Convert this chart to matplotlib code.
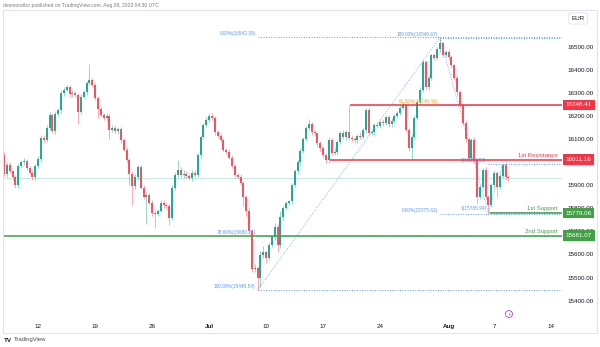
import matplotlib
matplotlib.use('Agg')
import matplotlib.pyplot as plt
import numpy as np

plt.rcParams['font.family'] = ['Liberation Sans', 'DejaVu Sans']

# 4h candles, Jun 7 -> Aug 8 2023 (20 bars per trading week)
first_open = 16030
closes = [
    # Jun 7-9
    15950, 15990, 15960, 15935, 15900, 15985, 16000, 16005, 15975, 15955, 15935, 15985,
    # Jun 12-16
    16015, 16105, 16095, 16150, 16205, 16135, 16210, 16225, 16300, 16315,
    16325, 16295, 16300, 16290, 16220, 16285, 16305, 16345, 16355, 16335,
    # Jun 19-23
    16280, 16230, 16205, 16190, 16200, 16140, 16150, 16135, 16145, 16095,
    16055, 16010, 15950, 15895, 15935, 15980, 15890, 15850, 15860, 15825,
    # Jun 26-30
    15780, 15775, 15790, 15825, 15815, 15810, 15758, 15890, 15945, 15966,
    15945, 15950, 15940, 15932, 15955, 15945, 16030, 16110, 16160, 16185,
    # Jul 3-7
    16200, 16190, 16130, 16115, 16095, 16055, 16045, 16020, 15985, 15945,
    15935, 15910, 15850, 15790, 15700, 15535, 15540, 15500, 15598, 15610,
    # Jul 10-14
    15585, 15640, 15676, 15720, 15640, 15762, 15800, 15823, 15830, 15900,
    15960, 16000, 16050, 16100, 16150, 16165, 16130, 16125, 16083, 16060,
    # Jul 17-21
    16030, 16010, 16097, 16040, 16045, 16088, 16127, 16110, 16130, 16105,
    16100, 16095, 16115, 16110, 16140, 16227, 16127, 16130, 16162, 16158,
    # Jul 24-28
    16175, 16170, 16195, 16165, 16180, 16200, 16215, 16237, 16250, 16140,
    16062, 16110, 16193, 16260, 16313, 16435, 16327, 16365, 16465, 16452,
    # Jul 31 - Aug 4
    16490, 16517, 16465, 16478, 16457, 16420, 16365, 16305, 16248, 16170,
    16100, 16018, 16097, 16010, 15850, 15893, 15966, 15850, 15815, 15900,
    # Aug 7-8
    15953, 15893, 15940, 15990, 15936, 15930,
]
upper_wick = [
    15, 10, 12, 8, 10, 12, 10, 14, 8, 10, 12, 8,
    10, 12, 15, 10, 12, 8, 12, 10, 15, 10, 8, 10, 12, 8, 10, 12, 10, 8, 70, 10,
    10, 8, 12, 10, 15, 8, 10, 12, 10, 8, 10, 12, 8, 10, 15, 10, 8, 12, 10, 8,
    10, 12, 8, 10, 12, 10, 8, 10, 12, 45, 12, 15, 10, 8, 12, 10, 8, 10, 12, 10,
    12, 15, 10, 8, 12, 10, 8, 12, 10, 8, 10, 12, 8, 10, 15, 10, 20, 12, 15, 25,
    10, 12, 8, 15, 10, 25, 12, 10, 8, 12, 10, 8, 12, 10, 8, 22, 10, 12, 8, 10,
    10, 8, 12, 10, 15, 8, 10, 12, 10, 120, 12, 10, 8, 15, 10, 10, 12, 8, 10, 12,
    10, 12, 8, 10, 12, 10, 8, 12, 10, 8, 10, 12, 10, 8, 12, 10, 10, 12, 8, 10,
    12, 23, 10, 8, 12, 10, 8, 12, 10, 8, 12, 10, 8, 12, 10, 8, 10, 12, 8, 10,
    12, 10, 8, 5, 10, 8,
]
lower_wick = [
    10, 12, 8, 10, 12, 10, 8, 12, 10, 8, 12, 10,
    8, 12, 10, 8, 12, 10, 12, 8, 10, 12, 8, 10, 12, 8, 55, 10, 8, 12, 10, 8,
    12, 40, 10, 8, 12, 40, 10, 8, 12, 10, 8, 10, 50, 80, 10, 12, 8, 10, 120, 10,
    12, 60, 10, 8, 12, 10, 30, 10, 12, 8, 10, 12, 8, 10, 12, 10, 8, 12, 10, 8,
    10, 8, 12, 10, 8, 12, 10, 8, 10, 12, 8, 10, 40, 25, 12, 10, 12, 55, 40, 12,
    20, 10, 8, 12, 30, 10, 12, 8, 10, 12, 8, 10, 12, 10, 8, 10, 12, 10, 15, 10,
    10, 15, 12, 10, 8, 12, 10, 8, 12, 10, 8, 10, 12, 8, 10, 12, 10, 8, 12, 10,
    10, 12, 8, 10, 12, 8, 10, 12, 8, 10, 12, 50, 10, 8, 12, 10, 8, 12, 10, 8,
    10, 12, 8, 10, 12, 10, 8, 12, 10, 8, 12, 16, 10, 12, 25, 10, 8, 12, 29, 10,
    10, 45, 10, 8, 12, 10,
]

date_ticks = [12, 32, 52, 72, 92, 112, 132, 156, 172, 192]
date_labels = ['12', '19', '26', 'Jul', '10', '17', '24', 'Aug', '7', '14']
price_ticks = list(range(15400, 16501, 100))
hidden_ticks = [16000]  # sits under the 16011.16 tag

# key levels: (price, first bar, colour, label)
levels = [
    (16248.41, 121.4, '#f23645', ''),
    (16011.16, 114.4, '#f23645', '1st Resistance'),
    (15779.06, 170.5, '#43a047', '1st Support'),
    (15681.07, -1, '#43a047', '2nd Support'),
]

# fib drawings: (start bar, [(price, label, colour)])
fibs = [
    (89, [(16542.39, '0.00%(16542.39)', '#5b9cf6'),
          (15680.25, '78.60%(15680.25)', '#5b9cf6'),
          (15445.54, '100.00%(15445.54)', '#5b9cf6')]),
    (153, [(16540.67, '100.00%(16540.67)', '#5b9cf6'),
           (16248.43, '61.80%(16248.43)', '#f5a623'),
           (15775.62, '0.00%(15775.62)', '#5b9cf6')]),
    (170, [(15990.53, '0(15990.53)', '#5b9cf6'),
           (15785.94, '1(15785.94)', '#5b9cf6')]),
]
trend_lines = [
    ((89, 15445.54), (153, 16542.39)),
    ((153, 16540.67), (170, 15775.62)),
    ((170, 15785.94), (175, 15990.53)),
]

W, H = 600, 347
fig = plt.figure(figsize=(6, 3.47), dpi=100)
ax = fig.add_axes([3 / W, 1 - 318 / H, 559 / W, 308 / H])

closes = np.array(closes, dtype=float)
opens = np.concatenate([[first_open], closes[:-1]])
highs = np.maximum(opens, closes) + np.array(upper_wick)
lows = np.minimum(opens, closes) - np.array(lower_wick)
x = np.arange(len(closes))
up = closes >= opens
col = np.where(up, '#22ab94', '#f7525f')

ax.vlines(x, lows, highs, colors=col, lw=0.6, alpha=0.55, zorder=2)
ax.bar(x, np.maximum(np.abs(closes - opens), 2), bottom=np.minimum(opens, closes),
       width=0.7, color=col, zorder=3, linewidth=0)

xmax = 195.8
ax.set_xlim(-0.35, xmax)
ax.set_ylim(15324.3, 16660.5)

# last price line
ax.axhline(closes[-1], color='#22ab94', alpha=0.3, lw=0.6, zorder=1)

dot = (0, (1, 1.6))
for start, lv in fibs:
    for price, lab, c in lv:
        ax.hlines(price, start, xmax, colors=c, lw=0.7, linestyles=dot, zorder=1)
        ax.annotate(lab, xy=(start, price), xytext=(-1.5, 2.5), textcoords='offset points',
                    ha='right', va='center', fontsize=3.4, color=c)
for (x0, y0), (x1, y1) in trend_lines:
    ax.plot([x0, x1], [y0, y1], color='#5b9cf6', lw=0.7, ls=dot, alpha=0.8, zorder=1)

for price, start, c, lab in levels:
    ax.hlines(price, max(start, -0.35), xmax, colors=c, lw=1.3, alpha=0.85, zorder=4)
    if lab:
        ax.annotate(lab, xy=(1, price), xycoords=('axes fraction', 'data'),
                    xytext=(-3, 1.5), textcoords='offset points', ha='right', va='bottom',
                    fontsize=4.3, color=c)
    ax.annotate(f'{price:.2f}', xy=(1, price), xycoords=('axes fraction', 'data'),
                xytext=(2.5, 0), textcoords='offset points', ha='left', va='center',
                fontsize=4.5, color='white', zorder=10, annotation_clip=False,
                bbox=dict(boxstyle='square,pad=0.45', fc=c, ec='none'))

ax.yaxis.tick_right()
ax.set_yticks(price_ticks)
ax.set_yticklabels(['' if p in hidden_ticks else f'{p:.2f}' for p in price_ticks])
ax.set_xticks(date_ticks)
ax.set_xticklabels(date_labels)
for t in ax.get_xticklabels():
    if t.get_text() in ('Jul', 'Aug'):
        t.set_fontweight('bold')
ax.tick_params(axis='both', length=0, labelsize=4.5, colors='#131722')
ax.tick_params(axis='y', pad=4)
ax.tick_params(axis='x', pad=4.5)
for s in ax.spines.values():
    s.set_visible(False)

# frame and extras
fig.add_artist(plt.Rectangle((3 / W, 1 - 333 / H), 594 / W, 323 / H, transform=fig.transFigure,
                             fill=False, ec='#e0e3eb', lw=0.8))
fig.text(3 / W, 1 - 5 / H, 'desmondlzv published on TradingView.com, Aug 08, 2023 04:30 UTC',
         fontsize=3.6, color='#787b86', va='center')
fig.text(578 / W, 1 - 18.5 / H, 'EUR', fontsize=4.5, color='#131722', ha='center', va='center',
         bbox=dict(boxstyle='round,pad=0.5', fc='white', ec='#e0e3eb', lw=0.6))
fig.text(509 / W, 1 - 314 / H, '\u26a1', fontsize=3.5, color='#ab47bc', ha='center', va='center',
         bbox=dict(boxstyle='circle,pad=0.2', fc='white', ec='#ab47bc', lw=0.6))
fig.text(4 / W, 1 - 340 / H, 'TV', fontsize=4.5, fontweight='bold', color='#131722', va='center')
fig.text(14 / W, 1 - 340 / H, 'TradingView', fontsize=4.2, color='#4a4a4a', va='center')

fig.savefig('out.png', dpi=100, facecolor='white')
